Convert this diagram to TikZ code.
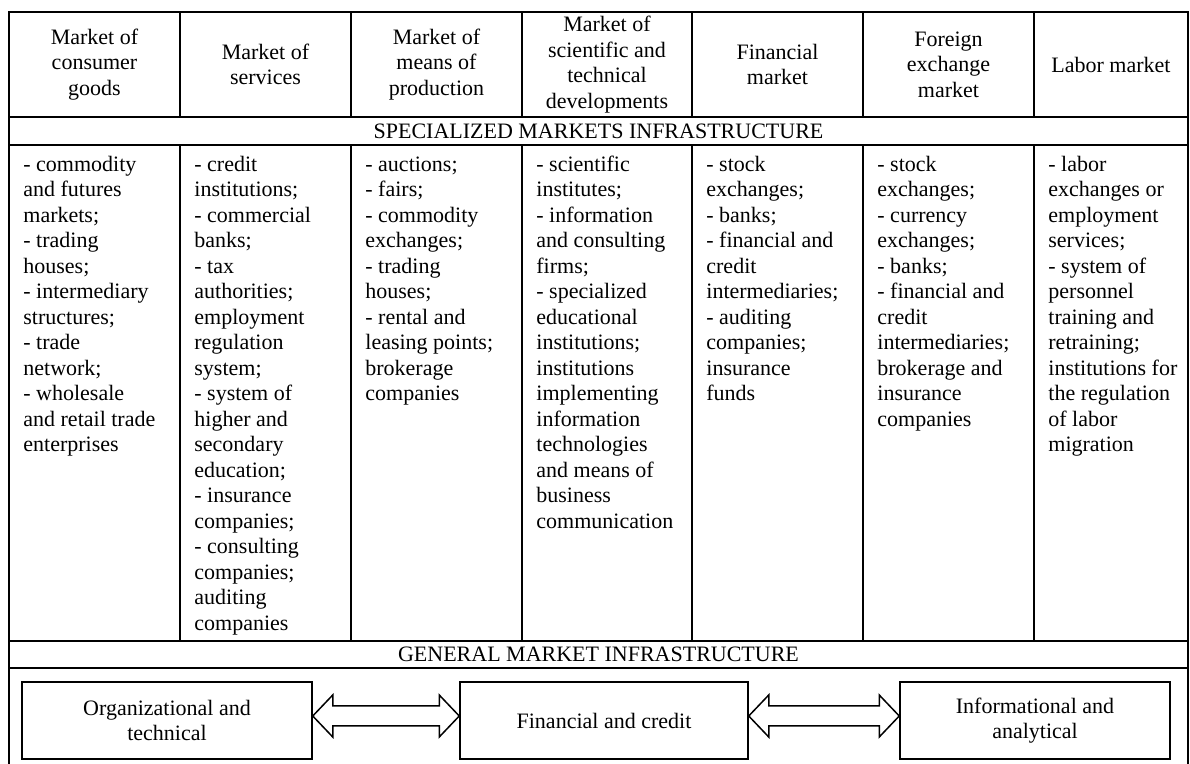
\documentclass[tikz,border=0pt]{standalone}
\usepackage{fontspec}
\setmainfont{Liberation Serif}
\usetikzlibrary{calc}
\begin{document}
\begin{tikzpicture}[x=0.5pt,y=-0.5pt,
  rule/.style={line width=1pt},
  txt/.style={inner sep=0pt,font=\fontsize{11}{12.75}\selectfont},
  hdr/.style={txt,align=center},
  cell/.style={txt,anchor=north west,align=left},
  infra/.style={txt,draw,line width=0.75pt,align=center,minimum height=38.5pt},
  dblarrow/.style={draw,line width=0.75pt,fill=white,line join=miter}]
\useasboundingbox (0,0) rectangle (1190,764);
% table rules
\draw[rule] (9,764) -- (9,12) -- (1188,12) -- (1188,764);
\draw[rule] (9,117) -- (1188,117);
\draw[rule] (9,145) -- (1188,145);
\draw[rule] (9,641) -- (1188,641);
\draw[rule] (9,668) -- (1188,668);
\foreach \x in {180,351,522,692,863,1034}{
  \draw[rule] (\x,12) -- (\x,117);
  \draw[rule] (\x,145) -- (\x,641);
}
% headers
\node[hdr] (h1) at (94.5,64.5) {Market of\\consumer\\goods};
\node[hdr] (h2) at (265.5,64.5) {Market of\\services};
\node[hdr] (h3) at (436.5,64.5) {Market of\\means of\\production};
\node[hdr] (h4) at (607,64.5) {Market of\\scientific and\\technical\\developments};
\node[hdr] (h5) at (777.5,64.5) {Financial\\market};
\node[hdr] (h6) at (948.5,64.5) {Foreign\\exchange\\market};
\node[hdr] (h7) at (1111,64.5) {Labor market};
\node[hdr] (spec) at (598.5,131) {SPECIALIZED MARKETS INFRASTRUCTURE};
% cells
\node[cell] (c1) at (23,153) {\strut- commodity\\and futures\\markets;\\- trading\\houses;\\- intermediary\\structures;\\- trade\\network;\\- wholesale\\and retail trade\\enterprises};
\node[cell] (c2) at (194,153) {\strut- credit\\institutions;\\- commercial\\banks;\\- tax\\authorities;\\employment\\regulation\\system;\\- system of\\higher and\\secondary\\education;\\- insurance\\companies;\\- consulting\\companies;\\auditing\\companies};
\node[cell] (c3) at (365,153) {\strut- auctions;\\- fairs;\\- commodity\\exchanges;\\- trading\\houses;\\- rental and\\leasing points;\\brokerage\\companies};
\node[cell] (c4) at (536,153) {\strut- scientific\\institutes;\\- information\\and consulting\\firms;\\- specialized\\educational\\institutions;\\institutions\\implementing\\information\\technologies\\and means of\\business\\communication};
\node[cell] (c5) at (706,153) {\strut- stock\\exchanges;\\- banks;\\- financial and\\credit\\intermediaries;\\- auditing\\companies;\\insurance\\funds};
\node[cell] (c6) at (877,153) {\strut- stock\\exchanges;\\- currency\\exchanges;\\- banks;\\- financial and\\credit\\intermediaries;\\brokerage and\\insurance\\companies};
\node[cell] (c7) at (1048,153) {\strut- labor\\exchanges or\\employment\\services;\\- system of\\personnel\\training and\\retraining;\\institutions for\\the regulation\\of labor\\migration};
\node[hdr] (gen) at (598.5,654.5) {GENERAL MARKET INFRASTRUCTURE};
% bottom boxes
\node[infra,minimum width=145pt] (org) at (167,720.5) {Organizational and\\technical};
\node[infra,minimum width=144pt] (fin) at (604,720.5) {Financial and credit};
\node[infra,minimum width=135pt] (inf) at (1035,720.5) {Informational and\\analytical};
% double arrows
\foreach \a/\b/\n in {org/fin/arrA, fin/inf/arrB}{
  \coordinate (\n-l) at ($(\a.east)+(0,-4.5)$);
  \coordinate (\n-r) at ($(\b.west)+(0,-4.5)$);
  \draw[dblarrow] (\n-l) -- ++(20,-21) -- ++(0,11) -- ($(\n-r)+(-20,-10)$) -- ++(0,-11) -- (\n-r)
    -- ++(-20,21) -- ++(0,-11) -- ($(\n-l)+(20,10)$) -- ++(0,11) -- cycle;
}
\end{tikzpicture}
\end{document}
